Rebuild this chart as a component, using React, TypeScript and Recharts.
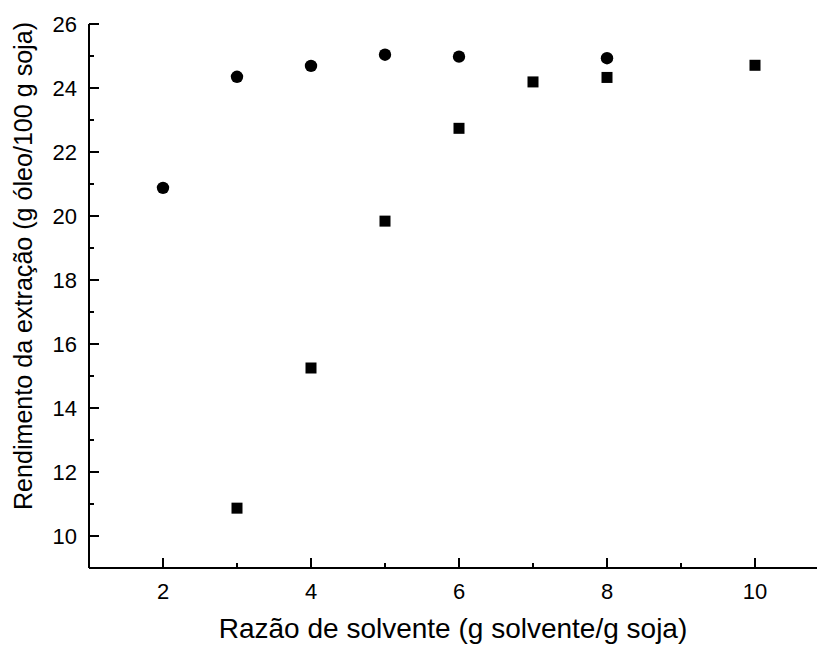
import React from "react";
import { ScatterChart, Scatter, XAxis, YAxis, Label } from "recharts";

// Razão de solvente vs. rendimento — duas séries de extração
const razaoCirculos = [2, 3, 4, 5, 6, 8];
const rendCirculos = [20.88, 24.35, 24.69, 25.04, 24.98, 24.93];

const razaoQuadrados = [3, 4, 5, 6, 7, 8, 10];
const rendQuadrados = [10.87, 15.25, 19.84, 22.74, 24.19, 24.33, 24.71];

const xTicks = [1, 2, 3, 4, 5, 6, 7, 8, 9, 10, 11];
const yTicks = [9, 10, 11, 12, 13, 14, 15, 16, 17, 18, 19, 20, 21, 22, 23, 24, 25, 26];

const tituloX = "Razão de solvente (g solvente/g soja)";
const tituloY = "Rendimento da extração (g óleo/100 g soja)";

const FONT = "'Liberation Sans', Arial, sans-serif";

const serieCirculos = razaoCirculos.map((x, i) => ({ x, y: rendCirculos[i] }));
const serieQuadrados = razaoQuadrados.map((x, i) => ({ x, y: rendQuadrados[i] }));

const X_MARGIN = 15;
const Y_MARGIN = 12;

function TickX(props: any) {
  const { x, y, payload } = props;
  const v = payload.value as number;
  const major = v % 2 === 0;
  const axisY = y - X_MARGIN;
  return (
    <g>
      <line x1={x} x2={x} y1={axisY} y2={axisY - (major ? 10 : 5)} stroke="#000" strokeWidth={2} />
      {major && (
        <text x={x} y={y} dy="0.71em" textAnchor="middle" fontSize={22} fontFamily={FONT} fill="#000">
          {v}
        </text>
      )}
    </g>
  );
}

function TickY(props: any) {
  const { x, y, payload } = props;
  const v = payload.value as number;
  const major = v % 2 === 0;
  const axisX = x + Y_MARGIN;
  return (
    <g>
      <line x1={axisX} x2={axisX + (major ? 10 : 5)} y1={y} y2={y} stroke="#000" strokeWidth={2} />
      {major && (
        <text x={x} y={y} dy="0.355em" textAnchor="end" fontSize={22} fontFamily={FONT} fill="#000">
          {v}
        </text>
      )}
    </g>
  );
}

function TickTopo(props: any) {
  const { x, y, payload } = props;
  if (payload.value % 2 !== 0) return <g />;
  return <line x1={x} x2={x} y1={y} y2={y + 2} stroke="#000" strokeWidth={1} />;
}

function Circulo(props: any) {
  return <circle cx={props.cx} cy={props.cy} r={6.2} fill="#000" />;
}

function Quadrado(props: any) {
  return <rect x={props.cx - 5.5} y={props.cy - 5.5} width={11} height={11} fill="#000" />;
}

export default function App() {
  return (
    <div
      style={{
        position: "fixed",
        left: 0,
        top: 0,
        width: 817,
        height: 649,
        overflow: "hidden",
        background: "#fff",
      }}
    >
      <ScatterChart width={840} height={649} margin={{ top: 24, right: 11, bottom: 0, left: 0 }}>
        <XAxis
          xAxisId="topo"
          orientation="top"
          type="number"
          dataKey="x"
          domain={[1, 11]}
          ticks={xTicks}
          height={0}
          tickSize={0}
          tickLine={false}
          tick={<TickTopo />}
          axisLine={{ stroke: "#000", strokeWidth: 2 }}
        />
        <XAxis
          type="number"
          dataKey="x"
          domain={[1, 11]}
          ticks={xTicks}
          interval={0}
          height={81}
          tickSize={0}
          tickMargin={X_MARGIN}
          tickLine={false}
          tick={<TickX />}
          axisLine={{ stroke: "#000", strokeWidth: 2 }}
        >
          <Label
            content={() => (
              <text x={453} y={638} textAnchor="middle" fontSize={28} fontFamily={FONT} fill="#000">
                {tituloX}
              </text>
            )}
          />
        </XAxis>
        <YAxis
          type="number"
          dataKey="y"
          domain={[9, 26]}
          ticks={yTicks}
          interval={0}
          width={89}
          tickSize={0}
          tickMargin={Y_MARGIN}
          tickLine={false}
          tick={<TickY />}
          axisLine={{ stroke: "#000", strokeWidth: 2 }}
        >
          <Label
            content={() => (
              <text
                x={0}
                y={0}
                transform="translate(32 266) rotate(-90)"
                textAnchor="middle"
                fontSize={26}
                textLength={488}
                lengthAdjust="spacingAndGlyphs"
                fontFamily={FONT}
                fill="#000"
              >
                {tituloY}
              </text>
            )}
          />
        </YAxis>
        <Scatter data={serieCirculos} shape={<Circulo />} isAnimationActive={false} />
        <Scatter data={serieQuadrados} shape={<Quadrado />} isAnimationActive={false} />
      </ScatterChart>
    </div>
  );
}
